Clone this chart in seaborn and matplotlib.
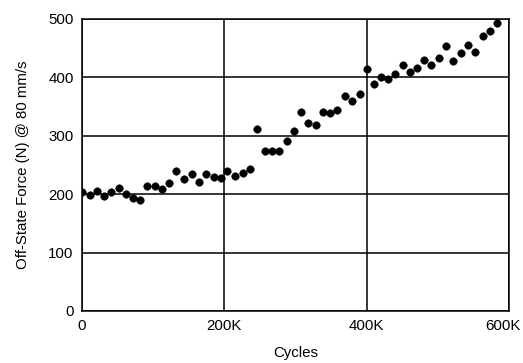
import matplotlib
matplotlib.use("Agg")
import matplotlib.pyplot as plt
from matplotlib.transforms import ScaledTranslation
import seaborn as sns
import pandas as pd

# Cycle counts (thousands) and measured off-state force (N)
cycles_k = [0, 11, 21, 31, 41, 52, 62, 72, 82, 92,
            102, 112, 122, 132, 143, 154, 164, 174, 185, 195,
            204, 215, 226, 236, 246, 257, 267, 277, 288, 298,
            308, 318, 329, 339, 349, 359, 370, 380, 390, 400,
            410, 420, 430, 440, 451, 461, 471, 481, 491, 502,
            511, 522, 532, 542, 552, 563, 573, 583]
force_n = [204, 199, 205, 197, 204, 211, 201, 193, 190, 214,
           214, 209, 220, 239, 226, 235, 221, 235, 229, 228,
           240, 231, 237, 244, 311, 274, 274, 274, 291, 309,
           340, 322, 318, 340, 339, 345, 368, 360, 371, 414,
           388, 401, 397, 406, 421, 409, 416, 430, 421, 433,
           454, 428, 442, 455, 443, 471, 479, 493]

x_ticks = [0, 200000, 400000, 600000]
x_tick_labels = ["0", "200K", "400K", "600K"]
y_ticks = [0, 100, 200, 300, 400, 500]

df = pd.DataFrame({"cycles": [c * 1000 for c in cycles_k], "force": force_n})

sns.set_theme(style="white")
plt.rcParams["font.family"] = ["Liberation Sans", "DejaVu Sans"]

fig = plt.figure(figsize=(5.23, 3.63), dpi=100)
ax = fig.add_axes([82 / 523, 1 - 311 / 363, (509 - 82) / 523, (311 - 19) / 363])

sns.scatterplot(data=df, x="cycles", y="force", ax=ax, color="black",
                s=30, edgecolor="black", linewidth=0.3, zorder=3, legend=False)

ax.set_xlim(0, 600000)
ax.set_ylim(0, 500)
ax.set_xticks(x_ticks)
ax.set_xticklabels(x_tick_labels)
ax.set_yticks(y_ticks)
ax.grid(True, color="black", linewidth=1.1)
ax.set_axisbelow(True)
for sp in ax.spines.values():
    sp.set_color("black")
    sp.set_linewidth(1.1)
ax.tick_params(axis="both", length=0, labelsize=10.8, colors="black", pad=6)

# keep the rightmost tick label inside the canvas
last = ax.get_xticklabels()[-1]
last.set_transform(last.get_transform() + ScaledTranslation(-6 / 100, 0, fig.dpi_scale_trans))

ax.set_xlabel("Cycles", fontsize=10.8, color="black", labelpad=9)
ax.set_ylabel("Off-State Force (N) @ 80 mm/s", fontsize=10.8, color="black", labelpad=13)

fig.savefig("out.png", dpi=100)
